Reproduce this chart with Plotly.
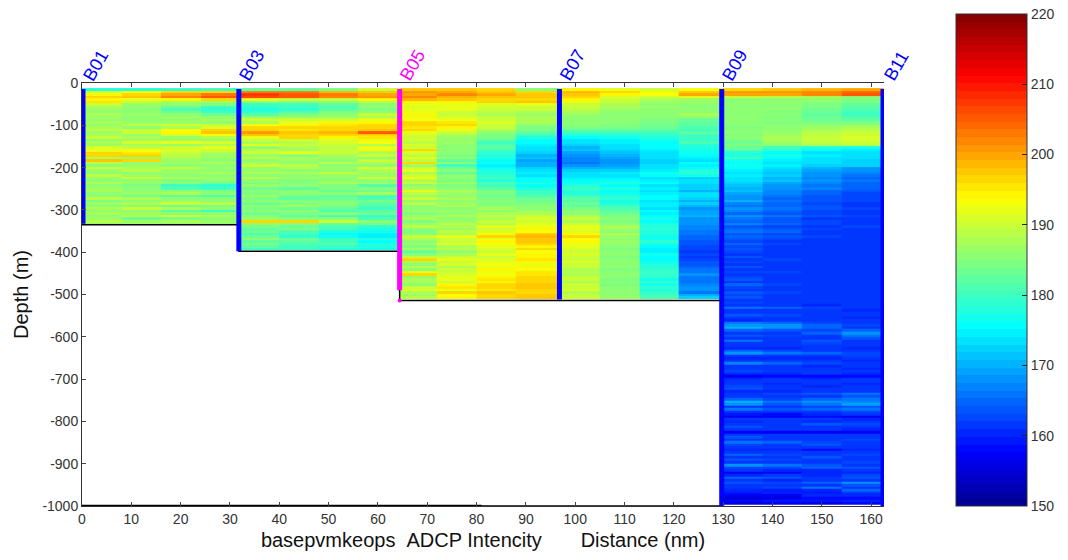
import plotly.graph_objects as go

depth_edges = [12, 18, 24, 30] + list(range(36, 1000, 6)) + [1000]

xa_edges = [0, 8, 16, 24, 32]
za = [
[178,178,179,180],[190,193,196,197],[194,197,200,203],[196,198,202,205],[194,192,194,196],[195,190,188,187],
[190,187,186,184],[188,186,183,180],[187,185,181,179],[186,186,183,180],[188,187,185,183],[187,186,187,186],
[186,186,186,188],[188,187,187,186],[186,189,190,190],[188,186,188,191],[189,190,193,196],[187,190,194,198],
[188,187,191,193],[190,188,187,189],[186,187,187,186],[188,191,192,191],[187,188,187,188],[191,189,190,192],
[192,193,191,190],[196,195,190,188],[197,196,189,187],[188,187,188,187],[198,197,187,186],[189,186,187,188],
[186,187,186,186],[190,188,189,187],[187,189,187,186],[186,186,187,188],[189,187,186,185],[187,190,188,187],
[185,186,184,186],[188,187,186,183],[186,184,180,179],[187,185,181,180],[188,186,185,184],[185,187,188,186],
[186,183,182,181],[189,188,186,185],[184,185,187,186],[187,188,190,189],[186,185,183,184],[188,190,188,186],
[185,186,182,180],[188,187,185,186],[186,189,190,188],[187,183,184,186],[189,187,188,187],[186,187,186,185],
]

xb_edges = [32, 40, 48, 56, 64.4]
zb = [
[182,182,184,190],[203,203,199,198],[207,205,203,200],[206,205,202,201],[192,190,190,194],[184,184,186,188],
[180,180,182,186],[179,180,181,186],[178,179,182,184],[179,181,184,186],[182,184,186,190],[186,187,187,188],
[190,190,190,192],[188,192,194,194],[193,194,195,196],[196,196,197,197],[197,195,197,198],[201,198,199,205],
[198,196,196,197],[192,196,194,195],[190,190,191,192],[188,189,191,193],[192,190,190,188],[186,188,189,192],
[189,187,190,194],[190,192,190,188],[187,186,188,190],[189,188,187,186],[186,187,186,190],[188,186,189,188],
[190,189,186,186],[186,188,187,191],[187,186,186,188],[188,188,190,187],[185,186,187,187],[189,187,186,190],
[186,184,185,186],[184,186,188,187],[187,186,184,181],[183,182,184,185],[186,185,183,183],[184,186,186,188],
[187,183,182,180],[184,182,183,181],[186,185,184,184],[183,184,186,182],[185,187,184,181],[184,183,182,180],
[186,185,181,182],[183,184,186,183],[185,182,180,179],[187,186,185,181],[196,197,190,186],[186,184,182,183],
[184,183,181,179],[182,184,180,178],[183,181,178,177],[181,180,176,175],[183,179,177,175],[185,183,180,178],
[182,182,180,176],[184,181,182,178],[182,180,179,178],[180,180,178,177],
]

xc_edges = [64.4, 72, 80, 88, 96.8, 105, 113, 121, 129.7, 138, 146, 154, 162.6]
zc = [
[198,198,196,185,194,192,190,193,197,198,199,200],[201,200,198,197,199,196,194,198,201,201,202,204],
[200,202,200,198,198,194,193,200,200,200,202,205],[202,199,198,198,197,191,190,192,190,189,188,186],
[199,198,197,197,194,190,188,187,186,186,186,184],[194,194,196,198,192,190,187,187,186,186,185,184],
[192,192,191,192,190,188,186,186,186,185,184,182],[191,192,191,190,190,188,187,186,185,185,184,182],
[192,192,190,190,189,187,186,185,186,185,183,181],[192,190,189,188,188,186,186,186,186,184,183,180],
[194,190,188,187,187,186,186,188,186,185,182,180],[192,191,190,188,186,186,185,185,185,184,183,181],
[193,192,190,188,186,186,184,183,185,185,183,182],[196,195,191,188,186,185,184,182,185,184,184,184],
[197,196,190,186,185,184,183,182,185,185,185,186],[195,194,190,184,184,184,183,181,184,186,187,188],
[196,192,188,184,182,182,182,180,185,186,188,189],[192,190,186,182,180,180,180,182,186,187,189,190],
[191,188,184,180,178,178,179,180,184,187,189,190],[190,187,184,178,176,177,178,180,185,188,190,191],
[191,186,182,176,174,175,177,179,184,188,190,191],[189,187,180,176,173,175,176,181,183,187,189,190],
[191,186,181,175,172,174,176,178,184,186,188,189],[190,185,182,174,170,173,176,178,183,180,178,177],
[196,186,180,173,171,172,175,177,182,179,176,175],[191,185,179,172,169,171,174,177,178,176,174,174],
[189,184,178,170,168,170,173,176,178,177,175,174],[192,186,178,171,167,169,173,175,180,176,174,173],
[189,182,176,169,167,168,172,174,177,175,174,172],[196,186,177,170,166,168,172,176,176,174,173,172],
[187,180,175,170,168,169,173,175,177,175,172,172],[190,183,176,172,170,170,174,176,176,173,170,168],
[192,186,178,173,172,172,175,178,175,172,169,168],[188,182,178,175,174,175,177,179,174,171,168,167],
[190,186,179,174,174,174,176,177,175,172,168,166],[193,186,180,176,175,175,174,172,174,170,167,165],
[188,184,178,176,176,176,175,174,173,171,168,166],[190,187,181,178,177,178,176,173,172,169,167,165],
[186,184,180,176,178,176,174,172,171,168,166,165],[188,185,182,178,180,178,175,172,170,168,167,165],
[192,188,184,180,178,176,174,170,171,167,165,164],[189,187,184,180,178,177,175,173,169,167,165,163],
[187,185,183,181,180,178,176,174,168,166,164,163],[190,188,184,183,182,179,176,172,168,165,164,163],
[186,186,186,183,181,177,174,170,170,166,164,163],[189,187,184,184,183,178,175,172,167,165,163,162],
[186,188,186,185,182,180,175,170,166,165,164,162],[185,186,188,186,184,181,174,168,168,166,164,163],
[187,187,186,187,186,182,176,169,167,165,163,162],[184,186,188,188,186,183,175,169,165,164,163,162],
[187,188,189,190,188,184,176,170,168,166,164,163],[188,186,188,191,190,186,177,168,166,164,162,162],
[184,187,190,190,188,184,176,168,165,164,163,162],[187,189,188,192,190,186,178,168,167,165,163,162],
[189,188,192,192,192,188,178,167,164,163,162,163],[185,187,190,194,192,187,179,167,165,164,163,162],
[184,189,191,193,191,186,178,166,166,165,162,161],[186,188,194,198,194,188,178,166,164,163,162,162],
[190,192,196,199,196,187,177,165,165,164,163,162],[188,190,192,198,193,186,177,165,164,163,162,161],
[185,190,194,198,194,187,179,164,163,162,162,162],[187,191,193,196,192,186,177,164,165,163,161,162],
[184,188,192,194,192,185,176,163,163,162,161,161],[188,189,191,196,191,184,175,163,164,162,161,162],
[182,186,190,193,190,185,175,162,163,161,162,161],[186,188,192,194,191,186,177,163,162,161,161,162],
[190,190,190,194,190,184,176,162,164,162,161,161],[196,192,191,195,190,185,176,163,162,163,162,161],
[188,190,192,194,191,186,177,164,163,161,161,162],[186,191,193,192,190,185,178,164,162,161,162,161],
[189,188,192,194,190,186,178,165,164,162,161,161],[186,190,194,193,188,184,179,166,162,161,162,162],
[192,190,192,195,189,186,180,166,163,163,161,161],[197,191,193,195,188,185,179,168,162,161,161,162],
[186,192,194,196,190,186,179,166,163,162,162,161],[188,192,195,197,190,184,177,166,164,162,161,162],
[188,190,194,196,188,185,179,166,162,161,161,161],[186,194,196,198,190,184,177,167,165,163,162,161],
[190,195,197,198,190,186,179,168,163,162,161,162],[191,192,195,197,191,185,178,168,162,161,162,161],
[188,196,198,197,188,186,179,166,164,163,161,161],[187,193,197,198,190,186,180,170,163,161,162,162],
[189,194,197,198,190,187,181,172,164,162,161,161],
]

xd_edges = [129.7, 138, 146, 154, 162.6]
zd = [
[162,162,161,161],[163,162,162,161],[161,161,160,162],[166,165,163,162],[162,161,161,160],[161,162,161,161],
[164,163,162,162],[161,161,161,160],[160,161,162,161],[166,165,163,162],[168,168,165,163],[170,168,165,162],
[165,164,163,165],[162,162,165,168],[164,163,162,166],[161,162,161,164],[166,162,164,161],[162,161,163,162],
[161,162,161,161],[160,160,161,160],[165,163,162,161],[168,166,165,163],[162,162,161,163],[160,160,160,161],
[161,161,162,160],[167,165,163,161],[162,161,160,161],[161,162,161,160],[163,162,161,161],[160,160,161,160],
[157,158,158,158],[160,161,160,161],[162,161,161,161],[161,160,161,160],[163,161,160,161],[164,161,162,161],
[160,160,161,161],[162,163,164,166],[161,161,162,164],[165,163,165,166],[170,166,168,167],[168,164,166,169],
[162,161,163,164],[166,164,165,166],[161,162,161,163],[159,158,160,161],[157,157,158,157],[161,162,161,160],
[160,161,160,161],[162,161,164,163],[164,162,161,161],[161,161,162,160],[157,157,157,157],[162,161,161,162],
[164,162,161,161],[161,161,162,163],[166,165,163,162],[163,161,164,161],[161,162,161,162],[160,160,158,160],
[162,161,161,161],[165,163,162,163],[162,162,164,162],[164,163,161,161],[161,161,161,163],[168,166,164,162],
[163,163,165,164],[161,160,160,161],[157,158,160,160],[160,161,160,163],[165,164,162,164],[162,160,161,161],
[164,163,165,168],[161,161,161,164],[162,163,166,161],[160,159,160,165],[159,160,159,161],[157,157,160,160],
[155,156,158,158],[158,159,159,160],[156,157,156,158],
]

station_names = ["B01", "B03", "B05", "B07", "B09", "B11"]
station_x = [0.2, 31.8, 64.4, 96.8, 129.7, 162.4]
station_bottom = [-333, -398, -490, -512, -1000, -1000]
station_colors = ["#0000ff", "#0000ff", "#ff00ff", "#0000ff", "#0000ff", "#0000ff"]
bottom_x = [0, 31.8, 31.8, 64.4, 64.4, 129.7, 129.7, 0]
bottom_y = [-335, -335, -398, -398, -514, -514, -1000, -1000]
thick_x = [0, 81]
thick_y = [-1000, -1000]
x_ticks = [0, 10, 20, 30, 40, 50, 60, 70, 80, 90, 100, 110, 120, 130, 140, 150, 160]
y_ticks = [0, -100, -200, -300, -400, -500, -600, -700, -800, -900, -1000]
y_labels = ["0", "-100", "-200", "-300", "-400", "-500", "-600", "-700", "-800", "-900", "-1000"]
cbar_ticks = [150, 160, 170, 180, 190, 200, 210]
cbar_top_label = "220"


def stepped_jet(n=64):
    anchors = [(0.0, (0, 0, 143)), (0.11, (0, 0, 255)), (0.365, (0, 255, 255)),
               (0.625, (255, 255, 0)), (0.875, (255, 0, 0)), (1.0, (128, 0, 0))]
    scale = []
    for i in range(n):
        t = (i + 0.5) / n
        for (a, ca), (b, cb) in zip(anchors, anchors[1:]):
            if a <= t <= b:
                f = (t - a) / (b - a)
                c = [round(p + (q - p) * f) for p, q in zip(ca, cb)]
                break
        col = f"rgb({c[0]},{c[1]},{c[2]})"
        scale.append([i / n, col])
        scale.append([(i + 1) / n, col])
    return scale


fig = go.Figure()
for xs, zs in [(xa_edges, za), (xb_edges, zb), (xc_edges, zc)]:
    fig.add_trace(go.Heatmap(x=xs, y=[-d for d in depth_edges[:len(zs) + 1]], z=zs, coloraxis="coloraxis",
                             zsmooth=False, hoverinfo="skip"))
fig.add_trace(go.Heatmap(x=xd_edges, y=[-d for d in depth_edges[len(zc):len(zc) + len(zd) + 1]], z=zd,
                         coloraxis="coloraxis", zsmooth=False, hoverinfo="skip"))
fig.add_trace(go.Scatter(x=bottom_x, y=bottom_y, mode="lines", line=dict(color="black", width=1.5),
                         showlegend=False, cliponaxis=False))
fig.add_trace(go.Scatter(x=thick_x, y=thick_y, mode="lines", line=dict(color="black", width=2.5),
                         showlegend=False, cliponaxis=False))
for name, sx, sb, col in zip(station_names, station_x, station_bottom, station_colors):
    fig.add_trace(go.Scatter(x=[sx, sx], y=[-14, sb], mode="lines", line=dict(color=col, width=5),
                             showlegend=False, cliponaxis=False, name=name))
    fig.add_annotation(x=sx, y=0, xref="x", yref="y", text=name, showarrow=False, textangle=-60,
                       font=dict(family="Liberation Sans", size=18, color=col),
                       xanchor="left", yanchor="bottom", xshift=-6, yshift=-4)
fig.add_trace(go.Scatter(x=[64.4], y=[-514], mode="markers", marker=dict(color="#ff00ff", size=4),
                         showlegend=False, cliponaxis=False))
fig.add_annotation(x=1021 / 1068, y=554 / 560, xref="paper", yref="paper", text=cbar_top_label, showarrow=False,
                   xanchor="left", yanchor="middle", font=dict(family="Liberation Sans", size=14, color="#333333"))

fig.update_layout(
    width=1068, height=560, autosize=False, margin=dict(l=0, r=0, t=0, b=0, autoexpand=False),
    paper_bgcolor="white", plot_bgcolor="white", showlegend=False,
    font=dict(family="Liberation Sans", size=14, color="#333333"),
    coloraxis=dict(
        cmin=150, cmax=220, colorscale=stepped_jet(),
        colorbar=dict(
            x=948 / 1068, xanchor="left", xpad=0,
            y=62 / 560, yanchor="bottom", ypad=0,
            len=492, lenmode="pixels", thickness=71, thicknessmode="pixels",
            outlinecolor="#333333", outlinewidth=1,
            tickmode="array", tickvals=cbar_ticks,
            ticks="inside", ticklen=5, tickcolor="#222222",
            tickfont=dict(family="Liberation Sans", size=14, color="#333333"),
        ),
    ),
    xaxis=dict(
        domain=[74 / 1068, 876 / 1068], range=[0, 162.6], tickmode="array", tickvals=x_ticks,
        ticks="inside", ticklen=4, tickcolor="#444444", showgrid=False, zeroline=False, showline=True,
        linecolor="#333333", linewidth=1, mirror="ticks", tickangle=0,
        tickfont=dict(family="Liberation Sans", size=14, color="#333333"),
        title=dict(text="basepvmkeops\u00a0\u00a0ADCP Intencity\u00a0\u00a0\u00a0\u00a0\u00a0\u00a0\u00a0Distance (nm)",
                   font=dict(family="Liberation Sans", size=20, color="#111111"), standoff=7),
    ),
    yaxis=dict(
        domain=[62 / 560, 485 / 560], range=[-1000, 0], tickmode="array", tickvals=y_ticks, ticktext=y_labels,
        ticks="inside", ticklen=4, tickcolor="#444444", showgrid=False, zeroline=False, showline=True,
        linecolor="#333333", linewidth=1, mirror=False,
        tickfont=dict(family="Liberation Sans", size=14, color="#333333"),
        title=dict(text="Depth (m)", font=dict(family="Liberation Sans", size=20, color="#111111"), standoff=8),
    ),
)
fig.write_html("out.html")
